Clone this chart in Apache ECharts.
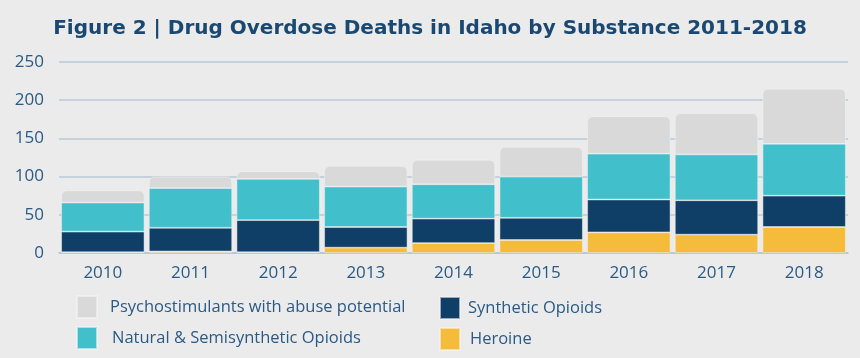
<!DOCTYPE html>
<html><head><meta charset="utf-8">
<script src="https://cdn.jsdelivr.net/npm/echarts@6/dist/echarts.min.js"></script>
<style>html,body{margin:0;padding:0;background:#ebebeb}#c{width:860px;height:358px}</style>
</head><body><div id="c"></div>
<script>
const years = ['2010','2011','2012','2013','2014','2015','2016','2017','2018'];
const heroine = [1, 2, 1, 7, 13, 17, 27, 24, 34];
const synthetic = [27, 31, 42, 27, 32, 29, 43, 45, 41];
const natural = [38, 52, 54, 53, 45, 54, 60, 60, 68];
const psycho = [16, 15, 10, 27, 32, 39, 49, 54, 72];
const yTicks = [0, 50, 100, 150, 200, 250];

const names = ['Psychostimulants with abuse potential','Natural & Semisynthetic Opioids','Synthetic Opioids','Heroine'];
const colors = {psy:'#d9d9d9', nat:'#41c0cc', syn:'#0f3e67', her:'#f5bb3a'};
const txt = '#2a5a86';

const chart = echarts.init(document.getElementById('c'));
function leg(name, left, top, pad){
  return {data:[name], left:left, top:top, padding:0, itemWidth:20, itemHeight:22, orient:'horizontal',
    selectedMode:false, icon:'rect',
    textStyle:{color:txt, fontSize:16.5, fontFamily:'Open Sans', padding:[0,0,0,pad]}};
}
function ser(name, data, color, extra){
  return Object.assign({name:name, type:'bar', stack:'a', data:data, barCategoryGap:'5%',
    itemStyle:{color:color, borderColor:'rgba(245,245,245,0.6)', borderWidth:0.8}}, extra||{});
}
chart.setOption({
  backgroundColor:'#ebebeb',
  animation:false,
  title:{text:'Figure 2 | Drug Overdose Deaths in Idaho by Substance 2011-2018', left:'center', top:14,
    textStyle:{color:'#1b4870', fontSize:20, fontWeight:'bold', fontFamily:'DejaVu Sans'}},
  legend:[
    leg(names[0], 76, 295, 8),
    leg(names[1], 76, 326, 10),
    leg(names[2], 439, 296, 3),
    leg(names[3], 439, 327, 5)
  ],
  grid:{left:59, right:12, top:62, bottom:105},
  xAxis:{type:'category', data:years,
    axisLine:{lineStyle:{color:'#b5c5d3', width:1.5}}, axisTick:{show:false},
    axisLabel:{color:txt, fontSize:17, fontFamily:'Open Sans', margin:12}},
  yAxis:{type:'value', min:0, max:250, interval:50,
    axisLabel:{color:txt, fontSize:17, fontFamily:'Open Sans', margin:15},
    splitLine:{lineStyle:{color:'#b9cad7', width:1.5}}, axisLine:{show:false}, axisTick:{show:false}},
  series:[
    ser(names[3], heroine, colors.her),
    ser(names[2], synthetic, colors.syn),
    ser(names[1], natural, colors.nat),
    ser(names[0], psycho, colors.psy, {itemStyle:{color:colors.psy, borderColor:'rgba(245,245,245,0.6)', borderWidth:0.8, borderRadius:[5,5,0,0]}})
  ]
});
</script></body></html>
